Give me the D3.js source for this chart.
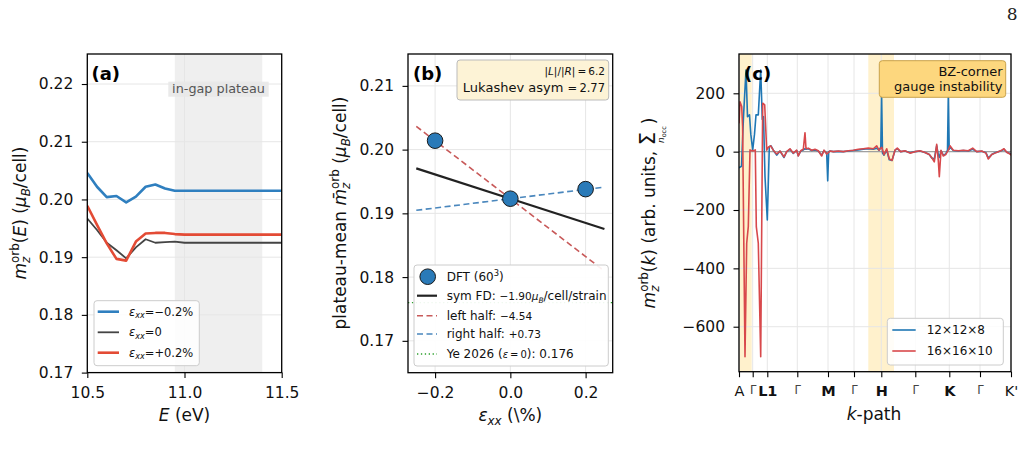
<!DOCTYPE html>
<html><head><meta charset="utf-8">
<script src="https://cdn.jsdelivr.net/npm/d3@7"></script>
<style>body{margin:0;background:#fff}svg{font-family:"DejaVu Sans",sans-serif}</style>
</head><body><svg id="c" width="1026" height="459"></svg>
<script>
// ---------------- DATA ----------------
// Panel (a): m_z^orb(E)
const energies = [10.5,10.55,10.6,10.65,10.7,10.75,10.8,10.85,10.9,10.95,11.0,11.05,11.1,11.15,11.2,11.25,11.3,11.35,11.4,11.45,11.5];
const mzNeg = [0.2046,0.2022,0.2004,0.2006,0.1995,0.2005,0.2022,0.2026,0.2019,0.2015,0.2015,0.2015,0.2015,0.2015,0.2015,0.2015,0.2015,0.2015,0.2015,0.2015,0.2015];
const mzZero = [0.1967,0.1947,0.1925,0.1912,0.1898,0.1917,0.1931,0.1925,0.1926,0.1927,0.1925,0.1925,0.1925,0.1925,0.1925,0.1925,0.1925,0.1925,0.1925,0.1925,0.1925];
const mzPos = [0.1989,0.1956,0.1924,0.1897,0.1894,0.1927,0.1941,0.1942,0.1942,0.1940,0.1939,0.1939,0.1939,0.1939,0.1939,0.1939,0.1939,0.1939,0.1939,0.1939,0.1939];
const plateauSpan = [10.95, 11.40];

// Panel (b): plateau mean vs strain
const strains = [-0.2, 0.0, 0.2];
const plateauMeans = [0.2014, 0.1923, 0.1938];
const fitSlopes = {sym: -1.90, left: -4.54, right: 0.73}; // mu_B/cell/strain
const fitAnchor = 0.1923;
const fitRange = [-0.25, 0.25];
const yeRef = 0.176;

// Panel (c): k-path
const kTickPos = [0, 13.7, 28.3, 58.3, 89, 115, 142.3, 176.3, 210.3, 241, 272];
const kTickLabels = ["A","\u0393","L1","\u0393","M","\u0393","H","\u0393","K","\u0393","K'"];
const bands = [[0, 12.7], [129.3, 155]];
const blueK = [[0,-55],[2.5,-50],[4.5,120],[7,280],[8.5,120],[10.5,126],[11.8,60],[13.7,5],[15.5,60],[17,126],[19.3,126],[21.7,280],[23.3,110],[24.5,120],[26,-86],[28.3,-234],[30.3,17],[32,20],[34.3,5],[37.7,-12],[41,2],[45,-20],[47.7,0],[51,8],[54.3,-6],[57.7,4],[59.3,-14],[61.7,2],[64.3,6],[66,10],[67,8],[69.3,10],[72.7,4],[76,6],[79.3,2],[82.7,-12],[85,4],[87.7,-5],[88.7,-100],[89.7,0],[91,2],[94.3,0],[99.3,1],[104.3,0],[109.3,2],[114.3,4],[119.3,6],[124.3,8],[129.3,10],[134.3,8],[137.7,12],[140,5],[141.8,15],[142.6,200],[143.5,-5],[145,-12],[147.7,5],[150.3,-28],[153,-30],[156,5],[158.3,10],[161.7,0],[166,2],[171,-4],[176,0],[181,2],[186,-3],[190.3,-10],[192.7,-22],[195.3,-25],[197.7,20],[199.3,-10],[200.3,-20],[202,3],[204.3,-12],[206.7,-8],[208.5,5],[209.3,195],[210.2,8],[211,15],[214.3,4],[219.3,2],[224.3,4],[229.3,2],[233.7,8],[237.7,0],[242.7,1],[247,-4],[249.3,-22],[252.7,-10],[256,-4],[259.3,0],[262.7,4],[265,8],[267.7,-2],[271,-6],[272,-10]];
const redK = [[0,97],[1,171],[2.7,155],[3.6,86],[6,-703],[7.7,-314],[9.3,-257],[11,6],[13.7,2],[16.3,6],[17.3,-257],[19.3,-314],[21.7,-703],[23.7,166],[25.7,160],[27.7,5],[29.3,15],[31.7,20],[34.3,5],[37.7,-8],[41,2],[45,-18],[47.7,0],[51,10],[54.3,-5],[57.7,5],[59.3,-15],[61.7,3],[64.3,8],[66,65],[67,10],[69.3,12],[72.7,5],[76,8],[79.3,3],[82.7,-15],[85,5],[87.7,-8],[91,2],[94.3,0],[99.3,2],[104.3,0],[109.3,3],[114.3,5],[119.3,8],[124.3,10],[129.3,12],[134.3,10],[137.7,20],[140,5],[142.7,15],[145,-10],[147.7,10],[150.3,-25],[153,-30],[156,5],[158.3,12],[161.7,0],[166,3],[171,-5],[176,0],[181,3],[186,-3],[190.3,-10],[192.7,-20],[195.3,-35],[197.7,25],[199.3,-30],[200.3,-86],[202,5],[204.3,-15],[206.7,-10],[209.3,5],[211,20],[214.3,5],[219.3,3],[224.3,5],[229.3,3],[233.7,12],[237.7,0],[242.7,2],[247,-5],[249.3,-25],[252.7,-10],[256,-5],[259.3,0],[262.7,5],[265,10],[267.7,-2],[271,-8],[272,-12]];
const seriesC = ["12\u00d712\u00d78","16\u00d716\u00d710"];

// ---------------- HELPERS ----------------
const svg = d3.select("#c");
const FONT = '"DejaVu Sans", sans-serif';
const MINUS = "\u2212";
const signed = (d, p) => (d < 0 ? MINUS : "") + Math.abs(d).toFixed(p);

function rich(text, segs, base) {
  let cur = 0, prevW = 0;
  segs.forEach(s => {
    const fs = s.fs || ((s.sub || s.sup) ? base * 0.7 : base);
    const ts = text.append("tspan").attr("font-size", fs).text(s.t);
    if (s.i) ts.attr("font-style", "italic");
    if (s.b) ts.attr("font-weight", "bold");
    let tgt = s.sub ? base * 0.22 : s.sup ? -base * 0.42 : 0;
    if (s.off !== undefined) tgt = s.off;
    if (tgt !== cur) { ts.attr("dy", tgt - cur); cur = tgt; }
    let dx = 0;
    if (s.back) dx -= prevW;
    if (s.dx) dx += s.dx;
    if (dx) ts.attr("dx", dx);
    prevW = ts.node().getComputedTextLength();
  });
  return text;
}

function grid(g, xs, ys, xt, yt) {
  const [ya, yb] = ys.range(), [xa, xb] = xs.range();
  g.selectAll(null).data(xt).join("line").attr("x1", d => xs(d)).attr("x2", d => xs(d))
    .attr("y1", yb).attr("y2", ya).attr("stroke", "#e6e6e6").attr("stroke-width", 1);
  g.selectAll(null).data(yt).join("line").attr("y1", d => ys(d)).attr("y2", d => ys(d))
    .attr("x1", xa).attr("x2", xb).attr("stroke", "#e6e6e6").attr("stroke-width", 1);
}

function frame(g, xs, ys, xt, yt, xf, yf) {
  const [xa, xb] = xs.range(), [ya, yb] = ys.range();
  const ax = g.append("g").attr("transform", `translate(0,${ya})`)
    .call(d3.axisBottom(xs).tickValues(xt).tickFormat(xf).tickSize(5.5).tickPadding(8.5));
  const ay = g.append("g").attr("transform", `translate(${xa},0)`)
    .call(d3.axisLeft(ys).tickValues(yt).tickFormat(yf).tickSize(5.5).tickPadding(8.5));
  [ax, ay].forEach(a => {
    a.select(".domain").remove();
    a.selectAll("line").attr("stroke", "#000").attr("stroke-width", 1.1);
    a.selectAll("text").attr("font-size", 15.5).attr("fill", "#111").attr("font-family", FONT);
  });
  g.append("rect").attr("x", xa).attr("y", yb).attr("width", xb - xa).attr("height", ya - yb)
    .attr("fill", "none").attr("stroke", "#000").attr("stroke-width", 1.3);
  return ax;
}

function clip(id, xs, ys) {
  const [xa, xb] = xs.range(), [ya, yb] = ys.range();
  svg.append("clipPath").attr("id", id).append("rect")
    .attr("x", xa).attr("y", yb).attr("width", xb - xa).attr("height", ya - yb);
  return `url(#${id})`;
}

function panelLabel(x, y, t) {
  svg.append("text").attr("x", x).attr("y", y).attr("font-size", 18).attr("font-weight", "bold")
    .attr("fill", "#000").text(t);
}

function yLabel(cx, cy, segs, base) {
  const t = svg.append("text").attr("transform", `translate(${cx},${cy}) rotate(-90)`)
    .attr("text-anchor", "middle").attr("fill", "#111");
  rich(t, segs, base);
}

// page number
svg.append("text").attr("x", 1017.5).attr("y", 20).attr("text-anchor", "end")
  .attr("font-family", '"DejaVu Serif", serif').attr("font-size", 17).attr("fill", "#222").text("8");

// ---------------- PANEL A ----------------
{
  const xs = d3.scaleLinear().domain([10.5, 11.5]).range([87.3, 281.7]);
  const ys = d3.scaleLinear().domain([0.17, 0.2252]).range([372.6, 54]);
  const xt = [10.5, 11.0, 11.5], yt = [0.17, 0.18, 0.19, 0.20, 0.21, 0.22];
  const g = svg.append("g");
  g.append("rect").attr("x", xs(plateauSpan[0])).attr("y", 54).attr("width", xs(plateauSpan[1]) - xs(plateauSpan[0]))
    .attr("height", 372.6 - 54).attr("fill", "#efefef");
  grid(g, xs, ys, xt, yt);
  const cp = clip("clipA", xs, ys);
  const line = d3.line().x((d, i) => xs(energies[i])).y(d => ys(d));
  const cols = ["#2f7fbf", "#444444", "#e34b35"], widths = [2.6, 1.8, 2.6];
  [mzNeg, mzZero, mzPos].forEach((s, i) => {
    g.append("path").attr("d", line(s)).attr("fill", "none").attr("stroke", cols[i])
      .attr("stroke-width", widths[i]).attr("stroke-linejoin", "round").attr("clip-path", cp);
  });
  g.append("rect").attr("x", 168.3).attr("y", 81.7).attr("width", 100.4).attr("height", 15).attr("fill", "#e8e8e8").attr("opacity", 0.9);
  g.append("text").attr("x", 218.5).attr("y", 92.5).attr("text-anchor", "middle").attr("font-size", 12.8)
    .attr("fill", "#555").text("in-gap plateau");
  frame(g, xs, ys, xt, yt, d3.format(".1f"), d3.format(".2f"));
  const lg = svg.append("g");
  lg.append("rect").attr("x", 94).attr("y", 300.7).attr("width", 105.3).attr("height", 65).attr("rx", 3)
    .attr("fill", "#fff").attr("fill-opacity", 0.85).attr("stroke", "#ccc");
  const rows = [311.7, 332.3, 352.7];
  const labs = ["\u22120.2%", "0", "+0.2%"];
  rows.forEach((y, i) => {
    lg.append("line").attr("x1", 97.7).attr("x2", 119).attr("y1", y).attr("y2", y)
      .attr("stroke", cols[i]).attr("stroke-width", widths[i]);
    const t = lg.append("text").attr("x", 129).attr("y", y + 4).attr("fill", "#111");
    rich(t, [{t: "\u03b5", i: 1}, {t: "xx", sub: 1, i: 1}, {t: "=" + labs[i], off: 0}], 11.5);
  });
  panelLabel(91.5, 80, "(a)");
  yLabel(26, 213, [{t: "m", i: 1}, {t: "z", sub: 1, i: 1}, {t: "orb", sup: 1, back: 1}, {t: "(", off: 0},
    {t: "E", i: 1}, {t: ") ("}, {t: "\u03bc", i: 1}, {t: "B", sub: 1, i: 1}, {t: "/cell)", off: 0}], 17);
  const xl = svg.append("text").attr("x", 184.5).attr("y", 421).attr("text-anchor", "middle").attr("fill", "#111");
  rich(xl, [{t: "E", i: 1}, {t: " (eV)"}], 17);
}

// ---------------- PANEL B ----------------
{
  const xs = d3.scaleLinear().domain([-0.272, 0.272]).range([408, 612.7]);
  const ys = d3.scaleLinear().domain([0.165, 0.215]).range([372.7, 54]);
  const xt = [-0.2, 0, 0.2], yt = [0.17, 0.18, 0.19, 0.20, 0.21];
  const g = svg.append("g");
  grid(g, xs, ys, xt, yt);
  const cp = clip("clipB", xs, ys);
  const fit = (slope) => fitRange.map(x => [x, fitAnchor + slope * x / 100]);
  const ln = d3.line().x(d => xs(d[0])).y(d => ys(d[1]));
  g.append("path").attr("d", ln([[-0.272, yeRef], [0.272, yeRef]])).attr("stroke", "#2ca02c")
    .attr("stroke-width", 1.3).attr("stroke-dasharray", "1.3,2.6").attr("fill", "none").attr("clip-path", cp);
  g.append("path").attr("d", ln(fit(fitSlopes.left))).attr("stroke", "#c85a5a").attr("stroke-width", 1.6)
    .attr("stroke-dasharray", "6,3.5").attr("fill", "none").attr("clip-path", cp);
  g.append("path").attr("d", ln(fit(fitSlopes.right))).attr("stroke", "#4a87bd").attr("stroke-width", 1.6)
    .attr("stroke-dasharray", "6,3.5").attr("fill", "none").attr("clip-path", cp);
  g.append("path").attr("d", ln(fit(fitSlopes.sym))).attr("stroke", "#222").attr("stroke-width", 2.2)
    .attr("fill", "none").attr("clip-path", cp);
  g.selectAll(null).data(strains).join("circle").attr("cx", d => xs(d)).attr("cy", (d, i) => ys(plateauMeans[i]))
    .attr("r", 7.8).attr("fill", "#2a7ab8").attr("stroke", "#1a1a1a").attr("stroke-width", 1);
  frame(g, xs, ys, xt, yt, d => signed(d, 1), d3.format(".2f"));
  g.append("rect").attr("x", 457).attr("y", 60).attr("width", 151.7).attr("height", 40).attr("rx", 3)
    .attr("fill", "#fdf3d6").attr("stroke", "#bbb");
  const a1 = g.append("text").attr("x", 605).attr("y", 75).attr("text-anchor", "end").attr("fill", "#111");
  rich(a1, [{t: "|"}, {t: "L", i: 1}, {t: "|/|"}, {t: "R", i: 1}, {t: "|\u2009=\u20096.2"}], 10.5);
  const a2 = g.append("text").attr("x", 605).attr("y", 92).attr("text-anchor", "end").attr("fill", "#111");
  rich(a2, [{t: "Lukashev asym  "}, {t: "=\u20092.77", fs: 11.5}], 13);
  const lg = svg.append("g");
  lg.append("rect").attr("x", 414).attr("y", 265).attr("width", 194.3).attr("height", 101).attr("rx", 3)
    .attr("fill", "#fff").attr("fill-opacity", 0.92).attr("stroke", "#ccc");
  const rows = [276.7, 295.7, 315.7, 334, 354];
  lg.append("circle").attr("cx", 427.7).attr("cy", rows[0]).attr("r", 7.8).attr("fill", "#2a7ab8").attr("stroke", "#1a1a1a");
  lg.append("line").attr("x1", 417).attr("x2", 437).attr("y1", rows[1]).attr("y2", rows[1]).attr("stroke", "#222").attr("stroke-width", 2.2);
  lg.append("line").attr("x1", 417).attr("x2", 437).attr("y1", rows[2]).attr("y2", rows[2]).attr("stroke", "#c85a5a").attr("stroke-width", 1.6).attr("stroke-dasharray", "6,3.5");
  lg.append("line").attr("x1", 417).attr("x2", 437).attr("y1", rows[3]).attr("y2", rows[3]).attr("stroke", "#4a87bd").attr("stroke-width", 1.6).attr("stroke-dasharray", "6,3.5");
  lg.append("line").attr("x1", 417).attr("x2", 437).attr("y1", rows[4]).attr("y2", rows[4]).attr("stroke", "#2ca02c").attr("stroke-width", 1.3).attr("stroke-dasharray", "1.3,2.6");
  const texts = [
    [{t: "DFT (60"}, {t: "3", sup: 1}, {t: ")", off: 0}],
    [{t: "sym FD: "}, {t: signed(fitSlopes.sym, 2), fs: 10.5}, {t: "\u03bc", i: 1, fs: 10.5}, {t: "B", sub: 1, i: 1, fs: 7.5}, {t: "/cell/strain", off: 0}],
    [{t: "left half: "}, {t: signed(fitSlopes.left, 2), fs: 10.5}],
    [{t: "right half: "}, {t: "+" + fitSlopes.right.toFixed(2), fs: 10.5}],
    [{t: "Ye 2026 ("}, {t: "\u03b5", i: 1, fs: 10}, {t: "\u2009=\u20090", fs: 10}, {t: "): " + yeRef.toFixed(3)}]
  ];
  texts.forEach((segs, i) => {
    const t = lg.append("text").attr("x", 446.7).attr("y", rows[i] + 4.3).attr("fill", "#111");
    rich(t, segs, 12);
  });
  panelLabel(413, 80, "(b)");
  yLabel(346, 213, [{t: "plateau-mean "}, {t: "m\u0304", i: 1}, {t: "z", sub: 1, i: 1}, {t: "orb", sup: 1, back: 1},
    {t: " (", off: 0}, {t: "\u03bc", i: 1}, {t: "B", sub: 1, i: 1}, {t: "/cell)", off: 0}], 17);
  const xl = svg.append("text").attr("x", 510.3).attr("y", 421).attr("text-anchor", "middle").attr("fill", "#111");
  rich(xl, [{t: "\u03b5", i: 1}, {t: "xx", sub: 1, i: 1}, {t: " (\\%)", off: 0}], 17);
}

// ---------------- PANEL C ----------------
{
  const xs = d3.scaleLinear().domain([0, 272]).range([739, 1011]);
  const ys = d3.scaleLinear().domain([-754.2, 334.7]).range([371.7, 54]);
  const yt = [-600, -400, -200, 0, 200];
  const g = svg.append("g");
  bands.forEach(b => g.append("rect").attr("x", xs(b[0])).attr("y", 54).attr("width", xs(b[1]) - xs(b[0]))
    .attr("height", 371.7 - 54).attr("fill", "#fff1cc"));
  grid(g, xs, ys, kTickPos, yt);
  const cp = clip("clipC", xs, ys);
  g.append("line").attr("x1", 739).attr("x2", 1011).attr("y1", ys(0)).attr("y2", ys(0)).attr("stroke", "#a0a0a0").attr("stroke-width", 1.4);
  const ln = d3.line().x(d => xs(d[0])).y(d => ys(d[1]));
  g.append("path").attr("d", ln(blueK)).attr("fill", "none").attr("stroke", "#1f77b4").attr("stroke-width", 1.6)
    .attr("stroke-linejoin", "round").attr("clip-path", cp);
  g.append("path").attr("d", ln(redK)).attr("fill", "none").attr("stroke", "#d8484b").attr("stroke-width", 1.6)
    .attr("stroke-linejoin", "round").attr("clip-path", cp);
  const ax = frame(g, xs, ys, kTickPos, yt, (d, i) => kTickLabels[i], d => (d < 0 ? MINUS + (-d) : d));
  ax.selectAll("text").attr("font-size", (d, i) => kTickLabels[i] === "\u0393" ? 11.5 : 14.5)
    .attr("fill", (d, i) => kTickLabels[i] === "\u0393" ? "#444" : "#111")
    .attr("font-weight", (d, i) => ["L1", "M", "H", "K"].includes(kTickLabels[i]) ? "bold" : "normal");
  g.append("rect").attr("x", 879.3).attr("y", 60.7).attr("width", 126.4).attr("height", 36.6).attr("rx", 3)
    .attr("fill", "#fdd77e").attr("stroke", "#c9a24a");
  g.append("text").attr("x", 1002.5).attr("y", 76).attr("text-anchor", "end").attr("font-size", 13).attr("fill", "#111").text("BZ-corner");
  g.append("text").attr("x", 1002.5).attr("y", 90.5).attr("text-anchor", "end").attr("font-size", 13).attr("fill", "#111").text("gauge instability");
  const lg = svg.append("g");
  lg.append("rect").attr("x", 887.3).attr("y", 318.3).attr("width", 116).attr("height", 46.7).attr("rx", 3)
    .attr("fill", "#fff").attr("fill-opacity", 0.85).attr("stroke", "#ccc");
  const rows = [330, 351], cols = ["#1f77b4", "#d8484b"];
  rows.forEach((y, i) => {
    lg.append("line").attr("x1", 892.3).attr("x2", 915.7).attr("y1", y).attr("y2", y).attr("stroke", cols[i]).attr("stroke-width", 1.6);
    lg.append("text").attr("x", 926.7).attr("y", y + 4.3).attr("font-size", 12).attr("fill", "#111").text(seriesC[i]);
  });
  panelLabel(744, 80, "(c)");
  yLabel(655, 213, [{t: "m", i: 1}, {t: "z", sub: 1, i: 1}, {t: "orb", sup: 1, back: 1}, {t: "(", off: 0},
    {t: "k", i: 1}, {t: ") (arb. units, "}, {t: "\u03a3", fs: 21}, {t: "n", i: 1, fs: 9, off: 9, dx: -11},
    {t: "occ", fs: 6.5, off: 11}, {t: ")", off: 0, dx: 2}], 17);
  const xl = svg.append("text").attr("x", 874).attr("y", 420).attr("text-anchor", "middle").attr("fill", "#111");
  rich(xl, [{t: "k", i: 1}, {t: "-path"}], 17);
}
</script></body></html>
